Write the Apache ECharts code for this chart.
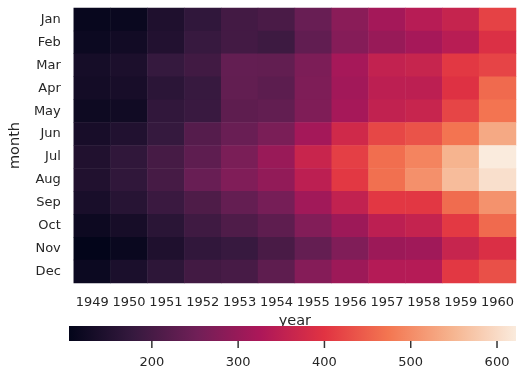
<!DOCTYPE html>
<html>
<head>
<meta charset="utf-8">
<script src="https://cdn.jsdelivr.net/npm/echarts@6/dist/echarts.min.js"></script>
<style>
html,body{margin:0;padding:0;background:#fff;}
#chart{width:524px;height:376px;}
</style>
</head>
<body>
<div id="chart"></div>
<script>
const years = ['1949','1950','1951','1952','1953','1954','1955','1956','1957','1958','1959','1960'];
const months = ['Jan','Feb','Mar','Apr','May','Jun','Jul','Aug','Sep','Oct','Nov','Dec'];
const p1949 = [112,118,132,129,121,135,148,148,136,119,104,118];
const p1950 = [115,126,141,135,125,149,170,170,158,133,114,140];
const p1951 = [145,150,178,163,172,178,199,199,184,162,146,166];
const p1952 = [171,180,193,181,183,218,230,242,209,191,172,194];
const p1953 = [196,196,236,235,229,243,264,272,237,211,180,201];
const p1954 = [204,188,235,227,234,264,302,293,259,229,203,229];
const p1955 = [242,233,267,269,270,315,364,347,312,274,237,278];
const p1956 = [284,277,317,313,318,374,413,405,355,306,271,306];
const p1957 = [315,301,356,348,355,422,465,467,404,347,305,336];
const p1958 = [340,318,362,348,363,435,491,505,404,359,310,337];
const p1959 = [360,342,406,396,420,472,548,559,463,407,362,405];
const p1960 = [417,391,419,461,472,535,622,606,508,461,390,432];
const colorbarTicks = [200,300,400,500,600];
const vMin = 104, vMax = 622;

const byYear = [p1949,p1950,p1951,p1952,p1953,p1954,p1955,p1956,p1957,p1958,p1959,p1960];
const rocket = ['#03051a','#35193e','#701f57','#ad1759','#e13342','#f37651','#f6b48f','#faebdd'];

const data = [];
byYear.forEach((arr, xi) => arr.forEach((v, yi) => data.push([xi, yi, v])));

const txt = '#262626';
const font = 'DejaVu Sans';
// layout: colorbar grid spans bar (15px) + ticks (7px); split fraction in grid's unit y-space
const barSplit = 7 / 22;

const chart = echarts.init(document.getElementById('chart'), null, {renderer:'canvas'});
chart.setOption({
  animation: false,
  textStyle: {fontFamily: font, color: txt},
  grid: [
    {left: 69, right: 8, top: 8, height: 275},
    {left: 69, right: 8, top: 326, height: 22}
  ],
  xAxis: [
    {
      type: 'category', data: years, gridIndex: 0,
      axisLine: {show: false}, axisTick: {show: false}, splitLine: {show: false},
      axisLabel: {color: txt, fontSize: 13, fontFamily: font, margin: 13, interval: 0},
      name: 'year', nameLocation: 'middle', nameGap: 31,
      nameTextStyle: {color: txt, fontSize: 14.5, fontFamily: font}
    },
    {
      type: 'value', gridIndex: 1, min: vMin, max: vMax,
      axisLine: {show: false}, splitLine: {show: false},
      axisTick: {show: false},
      axisLabel: {color: txt, fontSize: 13, fontFamily: font, margin: 8, customValues: colorbarTicks}
    }
  ],
  yAxis: [
    {
      type: 'category', data: months, gridIndex: 0, inverse: true,
      axisLine: {show: false}, axisTick: {show: false}, splitLine: {show: false},
      axisLabel: {color: txt, fontSize: 13, fontFamily: font, margin: 13, interval: 0},
      name: 'month', nameLocation: 'middle', nameGap: 46, nameRotate: 90,
      nameTextStyle: {color: txt, fontSize: 14.5, fontFamily: font}
    },
    {
      type: 'value', gridIndex: 1, min: 0, max: 1, show: false
    }
  ],
  visualMap: {
    show: false, type: 'continuous', min: vMin, max: vMax, seriesIndex: 0, dimension: 2,
    inRange: {color: rocket}
  },
  series: [
    {
      type: 'heatmap', xAxisIndex: 0, yAxisIndex: 0, data: data,
      itemStyle: {borderWidth: 0},
      emphasis: {disabled: true}
    },
    {
      type: 'custom', xAxisIndex: 1, yAxisIndex: 1,
      data: [[vMin, vMax]],
      renderItem: function (params, api) {
        const p0 = api.coord([api.value(0), 1]);
        const p1 = api.coord([api.value(1), barSplit]);
        return {
          type: 'rect',
          shape: {x: p0[0], y: p0[1], width: p1[0] - p0[0], height: p1[1] - p0[1]},
          style: {
            fill: new echarts.graphic.LinearGradient(0, 0, 1, 0,
              rocket.map((c, i) => ({offset: i / (rocket.length - 1), color: c})))
          }
        };
      },
      silent: true
    },
    {
      type: 'custom', xAxisIndex: 1, yAxisIndex: 1,
      data: colorbarTicks.map(v => [v, 0]),
      renderItem: function (params, api) {
        const top = api.coord([api.value(0), barSplit]);
        const bot = api.coord([api.value(0), 0]);
        return {
          type: 'rect',
          shape: {x: top[0] - 0.75, y: top[1], width: 1.5, height: bot[1] - top[1]},
          style: {fill: '#333333'}
        };
      },
      silent: true,
      z: 10
    }
  ]
});
</script>
</body>
</html>
